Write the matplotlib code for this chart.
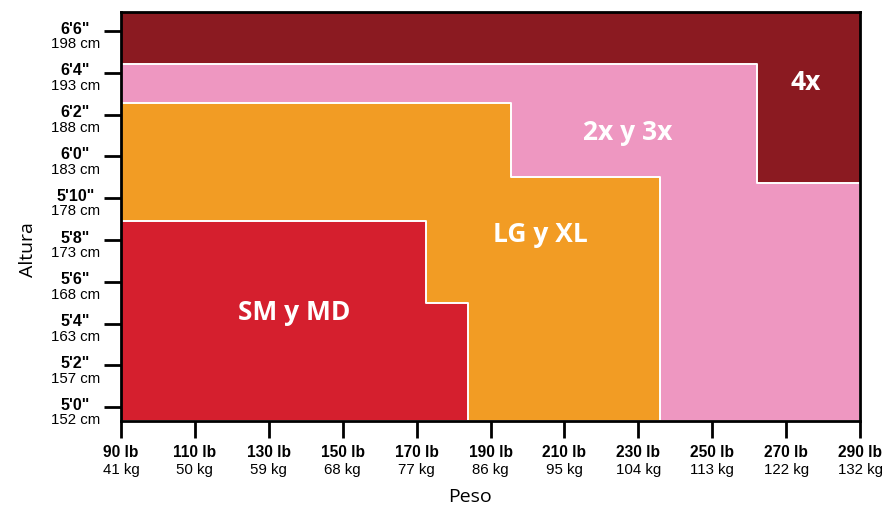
import matplotlib
matplotlib.use("Agg")
import matplotlib.pyplot as plt

# weight ticks (lb / kg) and height ticks (inches / labels / cm)
weights_lb = [90, 110, 130, 150, 170, 190, 210, 230, 250, 270, 290]
weights_kg = [41, 50, 59, 68, 77, 86, 95, 104, 113, 122, 132]
heights_in = [60, 62, 64, 66, 68, 70, 72, 74, 76, 78]
heights_ft = ["5'0\"", "5'2\"", "5'4\"", "5'6\"", "5'8\"",
              "5'10\"", "6'0\"", "6'2\"", "6'4\"", "6'6\""]
heights_cm = [152, 157, 163, 168, 173, 178, 183, 188, 193, 198]

# size zones: step boundaries (weight breaks in lb, max height in inches)
sizes = ["SM y MD", "LG y XL", "2x y 3x", "4x"]
sm_weights = [90, 172.5, 184]
sm_heights = [68.9, 65.0, 65.0]
lg_weights = [90, 195.5, 236]
lg_heights = [74.55, 71.0, 71.0]
xx_weights = [90, 262, 290]
xx_heights = [76.4, 70.73, 70.73]

colors = {"4x": "#8b1a21", "2x y 3x": "#ee97c1",
          "LG y XL": "#f29c24", "SM y MD": "#d51f2e"}

x_min, x_max = 90, 290
y_min, y_max = 59.35, 78.92

fig = plt.figure(figsize=(8.85, 5.1), dpi=100)
ax = fig.add_axes([0.1367, 0.1731, 0.8351, 0.8019])
ax.set_facecolor(colors["4x"])

zones = [("2x y 3x", xx_weights, xx_heights),
         ("LG y XL", lg_weights, lg_heights),
         ("SM y MD", sm_weights, sm_heights)]
for name, w, h in zones:
    ax.fill_between(w, y_min, h, step="post", facecolor=colors[name],
                    edgecolor="white", linewidth=1.4)

ax.set_xlim(x_min, x_max)
ax.set_ylim(y_min, y_max)

label_font = "Open Sans"
label_pos = {"SM y MD": (137, 64.6), "LG y XL": (203.5, 68.3),
             "2x y 3x": (227, 73.2), "4x": (275.4, 75.6)}
for name in sizes:
    x, y = label_pos[name]
    ax.text(x, y, name, color="white", fontsize=19, fontweight="bold",
            family=label_font, ha="center", va="center")

# axes frame and ticks
for sp in ax.spines.values():
    sp.set_linewidth(2)
    sp.set_color("black")
ax.set_xticks(weights_lb)
ax.set_yticks(heights_in)
ax.set_xticklabels([])
ax.set_yticklabels([])
ax.tick_params(length=12, width=2, color="black")

tick_font = "Liberation Sans"
for h, ft, cm in zip(heights_in, heights_ft, heights_cm):
    ax.annotate(ft, xy=(0, h), xycoords=ax.get_yaxis_transform(),
                xytext=(-33, 2), textcoords="offset points",
                ha="center", va="center", fontsize=11.5, fontweight="bold",
                family=tick_font)
    ax.annotate(f"{cm} cm", xy=(0, h), xycoords=ax.get_yaxis_transform(),
                xytext=(-33, -8.8), textcoords="offset points",
                ha="center", va="center", fontsize=10.8, family=tick_font)

for lb, kg in zip(weights_lb, weights_kg):
    ax.annotate(f"{lb} lb", xy=(lb, 0), xycoords=ax.get_xaxis_transform(),
                xytext=(0, -22.5), textcoords="offset points",
                ha="center", va="center", fontsize=11.2, fontweight="bold",
                family=tick_font)
    ax.annotate(f"{kg} kg", xy=(lb, 0), xycoords=ax.get_xaxis_transform(),
                xytext=(0, -35), textcoords="offset points",
                ha="center", va="center", fontsize=10.8, family=tick_font)

ax.text(-0.126, 0.42, "Altura", transform=ax.transAxes, rotation=90,
        ha="center", va="center", fontsize=14, family=label_font)
ax.text(0.472, -0.184, "Peso", transform=ax.transAxes,
        ha="center", va="center", fontsize=14, family=label_font)

fig.savefig("out.png", dpi=100)
